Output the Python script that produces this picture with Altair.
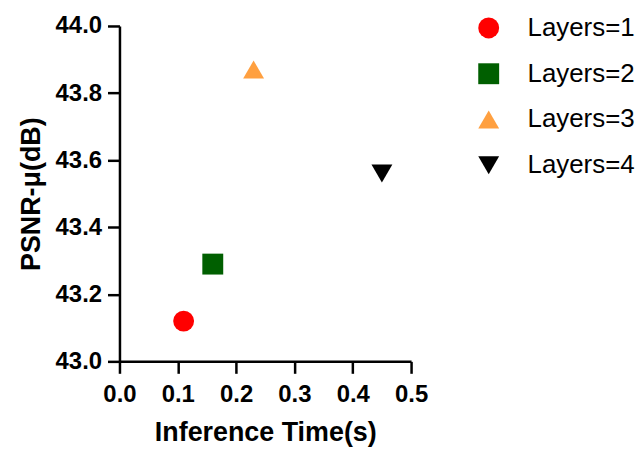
import altair as alt
import pandas as pd

layers = ["Layers=1", "Layers=2", "Layers=3", "Layers=4"]
inference_time = [0.11, 0.16, 0.23, 0.45]
psnr_mu = [43.12, 43.29, 43.87, 43.56]
shapes = ["circle", "square", "triangle-up", "triangle-down"]
colors = ["#FF0000", "#005F00", "#FFA040", "#000000"]

df = pd.DataFrame({"layers": layers, "time": inference_time, "psnr": psnr_mu})

font = "Liberation Sans"

legend = alt.Legend(title=None, orient="none", legendX=358, legendY=-11,
                    symbolSize=441, labelFontSize=26, labelFont=font,
                    labelColor="black", rowPadding=20, labelOffset=26,
                    symbolStrokeWidth=0, padding=0)

chart = alt.Chart(df).mark_point(filled=True, size=441, opacity=1).encode(
    x=alt.X("time:Q", title="Inference Time(s)",
            scale=alt.Scale(domain=[0, 0.5], nice=False, zero=False),
            axis=alt.Axis(values=[0, 0.1, 0.2, 0.3, 0.4, 0.5], format=".1f",
                          labelFlush=False, labelPadding=9, titlePadding=14)),
    y=alt.Y("psnr:Q", title="PSNR-μ(dB)",
            scale=alt.Scale(domain=[43.0, 44.0], nice=False, zero=False),
            axis=alt.Axis(values=[43.0, 43.2, 43.4, 43.6, 43.8, 44.0], format=".1f",
                          labelFlush=False, labelPadding=6, titlePadding=10)),
    shape=alt.Shape("layers:N", scale=alt.Scale(domain=layers, range=shapes), legend=legend),
    color=alt.Color("layers:N", scale=alt.Scale(domain=layers, range=colors), legend=legend),
).properties(
    width=293, height=337,
    autosize=alt.AutoSizeParams(type="none"),
    padding={"left": 112, "top": 17, "right": 225, "bottom": 86},
).configure_view(stroke=None).configure_axis(
    grid=False, domainColor="black", domainWidth=2.5, tickColor="black", tickWidth=2.5,
    tickSize=12, labelFont=font, labelFontWeight="bold", labelFontSize=24,
    labelColor="black", titleFont=font, titleFontWeight="bold", titleFontSize=27,
    titleColor="black",
)

chart.save("out.html", embed_options={"renderer": "svg", "actions": False})
